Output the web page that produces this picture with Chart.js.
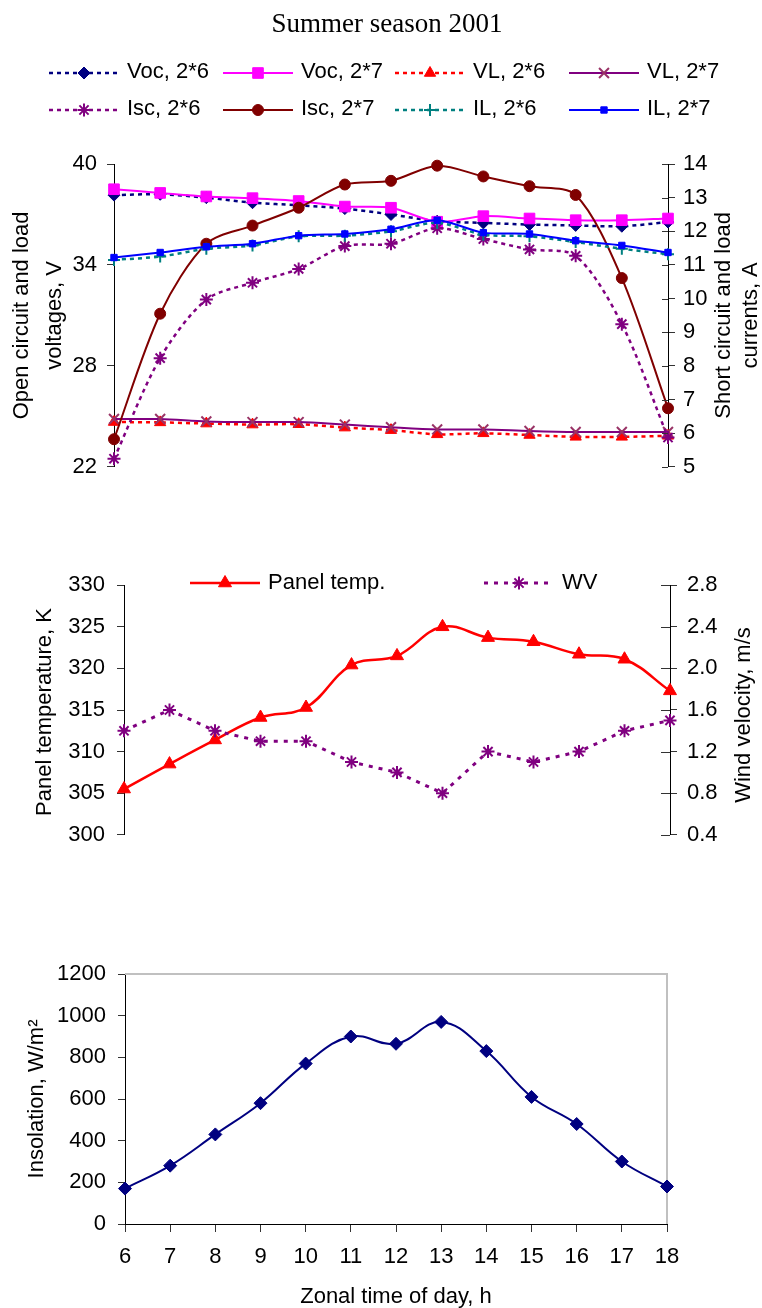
<!DOCTYPE html>
<html>
<head>
<meta charset="utf-8">
<script src="https://cdn.jsdelivr.net/npm/chart.js@4.4.1/dist/chart.umd.min.js"></script>
<style>
  html, body { margin: 0; padding: 0; background: #fff; overflow: hidden; }
  canvas { position: absolute; left: 0; }
</style>
</head>
<body>
<canvas id="c1" width="762" height="490" style="top:0"></canvas>
<canvas id="c2" width="762" height="300" style="top:560px"></canvas>
<canvas id="c3" width="762" height="408" style="top:900px"></canvas>
<script>
// time of day, h
var hours = [6, 7, 8, 9, 10, 11, 12, 13, 14, 15, 16, 17, 18];

// top chart: voltages (V) and currents (A)
var voc26 = [38.15, 38.2, 38.0, 37.7, 37.55, 37.35, 37.0, 36.6, 36.5, 36.4, 36.35, 36.3, 36.55];
var voc27 = [38.5, 38.28, 38.07, 37.97, 37.8, 37.47, 37.4, 36.57, 36.9, 36.76, 36.66, 36.66, 36.76];
var vl26 = [24.66, 24.64, 24.57, 24.51, 24.53, 24.33, 24.18, 23.93, 23.99, 23.89, 23.78, 23.78, 23.84];
var vl27 = [24.84, 24.84, 24.7, 24.66, 24.66, 24.51, 24.35, 24.22, 24.22, 24.13, 24.07, 24.07, 24.07];
var isc26 = [5.24, 8.23, 9.97, 10.47, 10.88, 11.56, 11.63, 12.09, 11.77, 11.46, 11.27, 9.24, 5.87];
var isc27 = [5.82, 9.55, 11.63, 12.17, 12.7, 13.39, 13.5, 13.95, 13.63, 13.34, 13.08, 10.61, 6.74];
var il26 = [11.15, 11.25, 11.48, 11.58, 11.85, 11.87, 12.0, 12.25, 11.9, 11.85, 11.68, 11.48, 11.32];
var il27 = [11.22, 11.37, 11.54, 11.63, 11.87, 11.92, 12.06, 12.33, 11.96, 11.92, 11.72, 11.58, 11.37];

// middle chart
var panelTemp = [305.5, 308.5, 311.4, 314.1, 315.3, 320.4, 321.5, 325.0, 323.7, 323.2, 321.7, 321.1, 317.3];
var windVel = [1.4, 1.6, 1.4, 1.3, 1.3, 1.1, 1.0, 0.8, 1.2, 1.1, 1.2, 1.4, 1.5];

// bottom chart
var insolation = [170, 280, 430, 580, 770, 900, 865, 970, 830, 610, 480, 300, 180];

var SANS = "'Liberation Sans', Arial, sans-serif";
Chart.defaults.font.family = SANS;
Chart.defaults.font.size = 22;
Chart.defaults.color = '#000';

function series(label, data, color, opts) {
  return Object.assign({
    label: label, data: data,
    borderColor: color, backgroundColor: color,
    pointBackgroundColor: color, pointBorderColor: color,
    borderWidth: 2, pointBorderWidth: 1, clip: false, tension: 0.3
  }, opts);
}

function legendItem(ctx, ds, x, y, textY) {
  var len = 70;
  ctx.save();
  ctx.strokeStyle = ds.borderColor;
  ctx.lineWidth = ds.borderWidth;
  ctx.setLineDash(ds.borderDash || []);
  ctx.beginPath(); ctx.moveTo(x, y); ctx.lineTo(x + len, y); ctx.stroke();
  ctx.setLineDash([]);
  ctx.fillStyle = ds.pointBackgroundColor;
  ctx.strokeStyle = ds.pointBorderColor;
  ctx.lineWidth = ds.pointBorderWidth;
  Chart.helpers.drawPoint(ctx, {pointStyle: ds.pointStyle, radius: ds.pointRadius, rotation: 0, borderWidth: ds.pointBorderWidth}, x + len / 2, y);
  ctx.fillStyle = '#000';
  ctx.font = '22px ' + SANS;
  ctx.textAlign = 'left';
  ctx.textBaseline = 'alphabetic';
  ctx.fillText(ds.label, x + len + 8, textY);
  ctx.restore();
}

function vertText(ctx, lines, xs, cy) {
  lines.forEach(function (t, i) {
    ctx.save();
    ctx.translate(xs[i], cy);
    ctx.rotate(-Math.PI / 2);
    ctx.font = '22px ' + SANS;
    ctx.fillStyle = '#000';
    ctx.textAlign = 'center';
    ctx.textBaseline = 'alphabetic';
    ctx.fillText(t, 0, 0);
    ctx.restore();
  });
}

function innerTicks(chart, id, len) {
  var s = chart.scales[id], ctx = chart.ctx;
  ctx.save();
  ctx.strokeStyle = '#333';
  ctx.lineWidth = 1;
  s.ticks.forEach(function (t) {
    var y = Math.round(s.getPixelForValue(t.value)) + 0.5;
    ctx.beginPath(); ctx.moveTo(s.left - len, y); ctx.lineTo(s.left, y); ctx.stroke();
  });
  ctx.restore();
}

function yAxis(pos, min, max, step, width, pad, fmt) {
  return {
    position: pos, min: min, max: max,
    afterFit: function (s) { s.width = width; },
    border: {display: true, color: '#000', width: 1},
    grid: {drawOnChartArea: false, tickLength: 7, color: '#333'},
    ticks: {stepSize: step, padding: pad, font: {size: 22}, callback: fmt || function (v) { return String(v); }}
  };
}

// ---------- chart 1 ----------
var ds1 = [
  series('Voc, 2*6', voc26, '#000080', {yAxisID: 'yL', borderDash: [4, 4], borderWidth: 2.5, pointStyle: 'rectRot', pointRadius: 6}),
  series('Voc, 2*7', voc27, '#FF00FF', {yAxisID: 'yL', pointStyle: 'rect', pointRadius: 7.5}),
  series('VL, 2*6', vl26, '#FF0000', {yAxisID: 'yL', borderDash: [4, 4], borderWidth: 2.5, pointStyle: 'triangle', pointRadius: 6.5}),
  series('VL, 2*7', vl27, '#800080', {yAxisID: 'yL', pointStyle: 'crossRot', pointRadius: 7, pointBorderWidth: 2, pointBorderColor: '#993366'}),
  series('Isc, 2*6', isc26, '#800080', {yAxisID: 'yR', borderDash: [4, 4], borderWidth: 2.5, pointStyle: 'star', pointRadius: 6.5, pointBorderWidth: 2}),
  series('Isc, 2*7', isc27, '#800000', {yAxisID: 'yR', pointStyle: 'circle', pointRadius: 5.5}),
  series('IL, 2*6', il26, '#008080', {yAxisID: 'yR', borderDash: [4, 4], borderWidth: 2.5, pointStyle: 'cross', pointRadius: 6, pointBorderWidth: 2}),
  series('IL, 2*7', il27, '#0000FF', {yAxisID: 'yR', pointStyle: 'rect', pointRadius: 4.5})
];
ds1.forEach(function (d, i) { d.order = 10 - i; });

var legendCols = [49, 223, 395, 569];
var legendRows = [73, 110];

new Chart(document.getElementById('c1'), {
  type: 'line',
  data: {labels: hours, datasets: ds1},
  options: {
    responsive: false, animation: false,
    layout: {padding: {top: 164, bottom: 16, left: 0, right: 0}, autoPadding: false},
    plugins: {legend: {display: false}, tooltip: {enabled: false}},
    scales: {
      x: {display: false},
      yL: yAxis('left', 22, 40, 6, 114, 10),
      yR: yAxis('right', 5, 14, 1, 94, 8)
    }
  },
  plugins: [{
    id: 'decor1',
    afterDraw: function (chart) {
      var ctx = chart.ctx, a = chart.chartArea;
      innerTicks(chart, 'yR', 6);
      ctx.save();
      ctx.font = "27px 'Liberation Serif', 'Times New Roman', serif";
      ctx.fillStyle = '#000';
      ctx.textAlign = 'center';
      ctx.fillText('Summer season 2001', 387, 32);
      ctx.restore();
      chart.data.datasets.forEach(function (d, i) {
        var r = Math.floor(i / 4), c = i % 4;
        legendItem(ctx, d, legendCols[c], legendRows[r], legendRows[r] + 5);
      });
      var cy = (a.top + a.bottom) / 2;
      vertText(ctx, ['Open circuit and load', 'voltages, V'], [28, 61], cy);
      vertText(ctx, ['Short circuit and load', 'currents, A'], [730, 757], cy);
    }
  }]
});

// ---------- chart 2 ----------
var ds2 = [
  series('Panel temp.', panelTemp, '#FF0000', {yAxisID: 'yL', borderWidth: 2.5, pointStyle: 'triangle', pointRadius: 7.5, tension: 0.4}),
  series('WV', windVel, '#800080', {yAxisID: 'yR', borderDash: [4, 6], borderWidth: 3, pointStyle: 'star', pointRadius: 6.5, pointBorderWidth: 2, tension: 0})
];
ds2.forEach(function (d, i) { d.order = 10 - i; });

new Chart(document.getElementById('c2'), {
  type: 'line',
  data: {labels: hours, datasets: ds2},
  options: {
    responsive: false, animation: false,
    layout: {padding: {top: 19, bottom: 10, left: 0, right: 0}, autoPadding: false},
    plugins: {legend: {display: false}, tooltip: {enabled: false}},
    scales: {
      x: {display: false},
      yL: yAxis('left', 300, 330, 5, 124, 12),
      yR: yAxis('right', 0.4, 2.8, 0.4, 92, 10, function (v) { return v.toFixed(1); })
    }
  },
  plugins: [{
    id: 'decor2',
    afterDraw: function (chart) {
      var ctx = chart.ctx, a = chart.chartArea;
      innerTicks(chart, 'yR', 9);
      legendItem(ctx, chart.data.datasets[0], 190, 23, 29);
      legendItem(ctx, chart.data.datasets[1], 484, 23, 29);
      var cy = (a.top + a.bottom) / 2;
      vertText(ctx, ['Panel temperature, K'], [51], cy + 2);
      vertText(ctx, ['Wind velocity, m/s'], [750], cy + 5);
    }
  }]
});

// ---------- chart 3 ----------
new Chart(document.getElementById('c3'), {
  type: 'line',
  data: {
    labels: hours,
    datasets: [series('Insolation', insolation, '#000080', {pointStyle: 'rectRot', pointRadius: 6.5, tension: 0.4})]
  },
  options: {
    responsive: false, animation: false,
    layout: {padding: {top: 74, bottom: 0, left: 0, right: 95}, autoPadding: false},
    plugins: {legend: {display: false}, tooltip: {enabled: false}},
    scales: {
      x: {
        afterFit: function (s) { s.height = 84; },
        border: {display: true, color: '#000', width: 1},
        grid: {drawOnChartArea: false, tickLength: 8, color: '#333'},
        ticks: {padding: 12, font: {size: 22}, maxRotation: 0, autoSkip: false}
      },
      y: yAxis('left', 0, 1200, 200, 125, 12)
    }
  },
  plugins: [{
    id: 'decor3',
    beforeDatasetsDraw: function (chart) {
      var ctx = chart.ctx, a = chart.chartArea;
      ctx.save();
      ctx.strokeStyle = '#c0c0c0';
      ctx.lineWidth = 2;
      ctx.beginPath();
      ctx.moveTo(a.left, a.top); ctx.lineTo(a.right, a.top); ctx.lineTo(a.right, a.bottom);
      ctx.stroke();
      ctx.restore();
    },
    afterDraw: function (chart) {
      var ctx = chart.ctx, a = chart.chartArea;
      vertText(ctx, ['Insolation, W/m\u00B2'], [43], (a.top + a.bottom) / 2);
      ctx.save();
      ctx.font = '22px ' + SANS;
      ctx.fillStyle = '#000';
      ctx.textAlign = 'center';
      ctx.fillText('Zonal time of day, h', (a.left + a.right) / 2, 403);
      ctx.restore();
    }
  }]
});
</script>
</body>
</html>
